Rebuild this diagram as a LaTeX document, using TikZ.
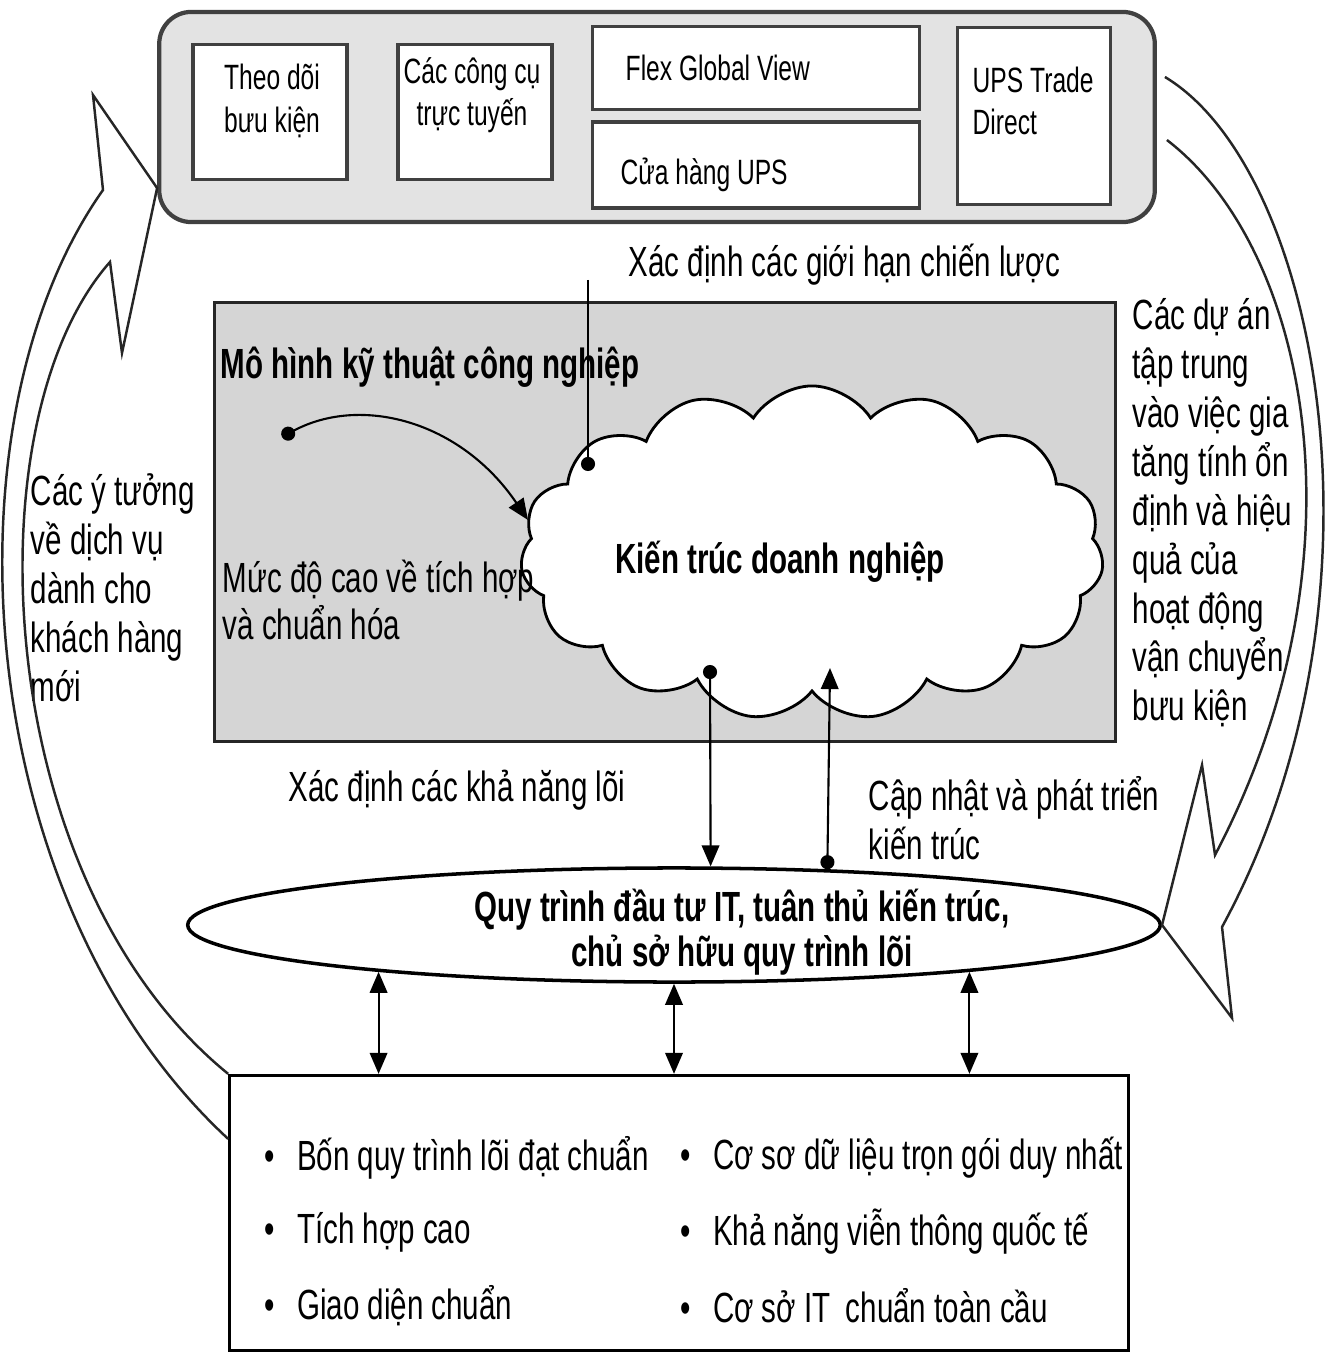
\documentclass[tikz,border=0pt]{standalone}
\usepackage{fontspec}
\setmainfont{Liberation Sans}[FakeStretch=0.7]
\usetikzlibrary{arrows.meta,shapes.geometric,shapes.symbols}

\tikzset{
  >={Triangle[length=6pt,width=5pt]},
  blob/.tip={Circle[length=4pt]},
  frame/.style={draw=black!75,line width=1.2pt,fill=gray!22,rounded corners=0.32cm},
  card/.style={draw=black!75,line width=1pt,fill=white},
  panel/.style={draw=black!85,line width=0.9pt,fill=gray!33},
  txt/.style={inner sep=0pt,align=left,font=\fontsize{12}{13.9}\selectfont},
  boldtxt/.style={inner sep=0pt,align=center,font=\fontsize{12}{12.8}\selectfont\bfseries},
  cardtxt/.style={inner sep=0pt,font=\fontsize{10}{12}\selectfont},
  itemtxt/.style={txt,anchor=west},
  link/.style={line width=0.6pt},
  bigarrow/.style={line width=0.7pt,draw=black!85}
}

\begin{document}
\begin{tikzpicture}[x=0.01cm,y=-0.01cm]
\useasboundingbox (0,0) rectangle (1325,1352);
% the strip of services at the top
\node[frame,minimum width=9.95cm,minimum height=2.10cm] (frame) at (657,117) {};
\node[card,minimum width=1.54cm,minimum height=1.35cm] (track) at (270,112) {};
\node[card,minimum width=1.54cm,minimum height=1.35cm] (tools) at (475,112) {};
\node[card,minimum width=3.27cm,minimum height=0.83cm] (flex) at (756,68) {};
\node[card,minimum width=3.27cm,minimum height=0.86cm] (store) at (756,165) {};
\node[card,minimum width=1.53cm,minimum height=1.77cm] (trade) at (1034,116) {};
\node[cardtxt,align=center] (tracktxt) at (272,101) {Theo dõi\\bưu kiện};
\node[cardtxt,align=center] (toolstxt) at (472,95) {Các công cụ\\trực tuyến};
\node[cardtxt,anchor=west] (flextxt) at (625,68) {Flex Global View};
\node[cardtxt,anchor=west] (storetxt) at (620,175) {Cửa hàng UPS};
\node[cardtxt,anchor=west,align=left] (tradetxt) at (972,101) {UPS Trade\\Direct};
\node[txt,anchor=west] (limtxt) at (628,265) {Xác định các giới hạn chiến lược};
% the grey panel and the cloud
\node[panel,minimum width=9.00cm,minimum height=4.39cm] (panel) at (665,522) {};
\node[cloud,cloud puffs=15,cloud puff arc=115,draw,fill=white,line width=0.8pt,
  inner sep=0pt,minimum width=5.83cm,minimum height=3.34cm] (cloud) at (812,553) {};
\node[boldtxt] (archtxt) at (780,562) {Kiến trúc doanh nghiệp};
\node[boldtxt,anchor=west] (modeltxt) at (220,367) {Mô hình kỹ thuật công nghiệp};
\node[txt,anchor=west,font=\fontsize{12}{13.1}\selectfont] (leveltxt) at (222,600) {Mức độ cao về tích hợp\\và chuẩn hóa};
% side texts
\node[txt,anchor=west] (ideatxt) at (30,588) {Các ý tưởng\\về dịch vụ\\dành cho\\khách hàng\\mới};
\node[txt,anchor=west] (projtxt) at (1132,513) {Các dự án\\tập trung\\vào việc gia\\tăng tính ổn\\định và hiệu\\quả của\\hoạt động\\vận chuyển\\bưu kiện};
\node[txt,anchor=west] (coretxt) at (288,790) {Xác định các khả năng lõi};
\node[txt,anchor=west] (updtxt) at (868,818) {Cập nhật và phát triển\\kiến trúc};
% the process ellipse
\node[ellipse,draw,fill=white,line width=1pt,inner sep=0pt,
  minimum width=9.72cm,minimum height=1.14cm] (process) at (674,925) {};
\node[boldtxt] (processtxt) at (742,932) {Quy trình đầu tư IT, tuân thủ kiến trúc,\\chủ sở hữu quy trình lõi};
% the base box with two lists
\node[draw,line width=0.9pt,minimum width=8.98cm,minimum height=2.75cm] (base) at (679,1213) {};
\foreach \entry [count=\i] in {Bốn quy trình lõi đạt chuẩn,Tích hợp cao,Giao diện chuẩn}
  \node[itemtxt] (left\i) at (264,1084+74*\i) {•\hspace{0.22cm}\entry};
\foreach \entry [count=\i] in {Cơ sơ dữ liệu trọn gói duy nhất,Khả năng viễn thông quốc tế,Cơ sở IT\, chuẩn toàn cầu}
  \node[itemtxt] (right\i) at (680,1084+74*\i) {•\hspace{0.22cm}\entry};
% connectors
\coordinate (ideadot) at (282,437);
\coordinate (cloudin) at (528,520);
\coordinate (limtop) at (588,280);
\coordinate (limdot) at (588,471);
\coordinate (coredot) at (710,665);
\coordinate (updot) at (830,668);
\draw[link,blob->] (ideadot) .. controls (360,395) and (460,420) .. (cloudin);
\draw[link,-blob] (limtop) -- (limdot);
\draw[link,blob->] (coredot) -- (process.58);
\draw[link,blob->] (process.20) -- (updot);
\draw[link,<->] (process.189.3) -- (process.189.3 |- base.north);
\draw[link,<->] (process.south) -- (process.south |- base.north);
\draw[link,<->] (process.351.4) -- (process.351.4 |- base.north);
% the two big curved arrows
\draw[bigarrow] ([yshift=-0.65cm]base.north west) .. controls (-30,900) and (-60,420) .. (103,190)
  -- (93,95) -- ([yshift=-0.71cm]frame.west) -- (122,353) -- (110,262)
  .. controls (-30,420) and (-10,880) .. (base.north west);
\draw[bigarrow] ([xshift=0.08cm,yshift=0.40cm]frame.east) .. controls (1320,170) and (1400,600) .. (1222,927)
  -- (1232,1018) -- (process.east) -- (1202,765) -- (1215,855)
  .. controls (1370,560) and (1310,250) .. ([xshift=0.10cm,yshift=-0.23cm]frame.east);
\end{tikzpicture}
\end{document}
